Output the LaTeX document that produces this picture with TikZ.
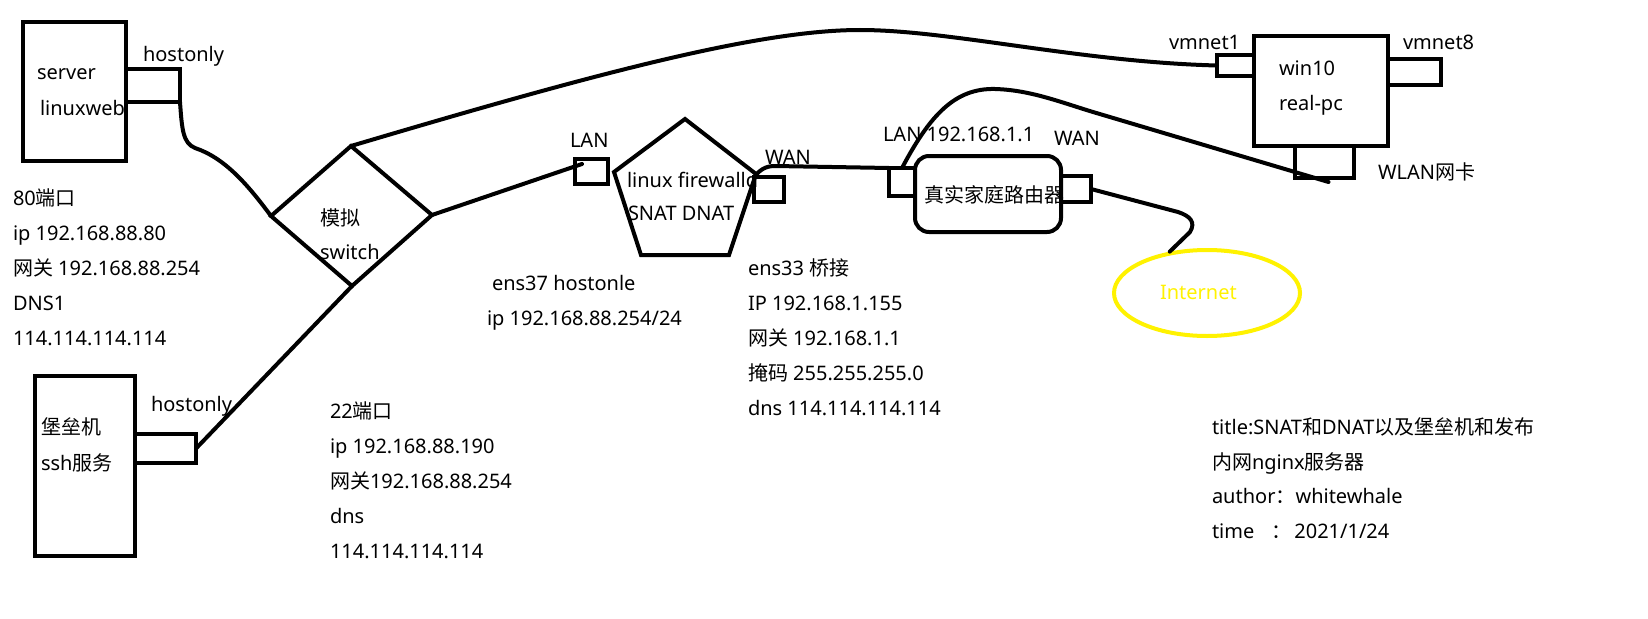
\documentclass[tikz,border=0pt]{standalone}
\usepackage{fontspec}
\setmainfont{Noto Sans}
\newfontfamily\zh{Noto Sans CJK SC}
\usetikzlibrary{shapes.geometric}
\definecolor{inetyellow}{RGB}{255,242,0}
\newcommand\fsz{\fontsize{20}{24}\selectfont}
\tikzset{
  wire/.style={line width=4pt, line cap=round, line join=round},
  shapeline/.style={line width=4pt, line join=miter},
  box/.style={draw, line width=4pt, inner sep=0pt, outer sep=0pt, rectangle},
  txt/.style={anchor=base west, inner sep=0pt, outer sep=0pt, font=\fsz},
}
\begin{document}
\begin{tikzpicture}[x=1pt, y=-1pt]
\fill[white] (0,0) rectangle (1648,618);
\path[use as bounding box] (0,0) rectangle (1648,618);

% ---------- boxes ----------
\node[box, minimum width=103pt, minimum height=139pt] (server) at (74.5,91.5) {};
\node[box, minimum width=54pt, minimum height=33pt] (sport) at (153,85.5) {};
\node[box, minimum width=100pt, minimum height=180pt] (bastion) at (85,466) {};
\node[box, minimum width=61pt, minimum height=29pt] (bport) at (165.5,448.5) {};
\node[box, minimum width=33pt, minimum height=25pt] (lanport) at (591.5,171.5) {};
\node[box, minimum width=30pt, minimum height=25pt] (wan) at (769,189.5) {};
\node[box, minimum width=26pt, minimum height=28pt] (rlan) at (902,182) {};
\node[box, rounded corners=14pt, minimum width=146pt, minimum height=76pt] (router) at (988,194) {};
\node[box, minimum width=30pt, minimum height=26pt] (rwan) at (1076,189) {};
\node[box, minimum width=134pt, minimum height=110pt] (win) at (1321,91) {};
\node[box, minimum width=37pt, minimum height=21pt] (vmA) at (1235.5,65.5) {};
\node[box, minimum width=53pt, minimum height=26pt] (vmB) at (1414.5,72) {};
\node[box, minimum width=59pt, minimum height=32pt] (wlan) at (1324.5,162) {};
\node[draw=inetyellow, line width=4pt, ellipse, inner sep=0pt, minimum width=186pt, minimum height=86pt] (inet) at (1207,293) {};

% ---------- switch diamond ----------
\coordinate (swT) at (351,146);
\coordinate (swL) at (271,216);
\coordinate (swR) at (432,215);
\coordinate (swB) at (352,286);
\draw[shapeline] (swT) -- (swR) -- (swB) -- (swL) -- cycle;

% ---------- firewall pentagon ----------
\coordinate (fwT) at (685,119);
\coordinate (fwR) at (756,174);
\coordinate (fwBR) at (729,255);
\coordinate (fwBL) at (641,255);
\coordinate (fwL) at (614,172);
\draw[shapeline] (fwT) -- (fwR) -- (fwBR) -- (fwBL) -- (fwL) -- cycle;

% ---------- connectors ----------
\draw[wire] (sport.south east) .. controls (182,130) and (183,143) .. (195,148)
  .. controls (225,158) and (248,185) .. (swL);
\draw[wire] (bport.east) -- (swB);
\draw[wire] (swR) -- ([shift={(7,5)}]lanport.north west);
\draw[wire] (swT) .. controls (600,72) and (760,30) .. (860,30)
  .. controls (950,30) and (1080,62) .. (vmA.west);
\draw[wire] (wan.north west) .. controls (760,170) and (765,166) .. (775,166) -- (rlan.north west);
\draw[wire] (rlan.north) .. controls (930,115) and (955,88) .. (995,89)
  .. controls (1030,90) and (1060,102) .. (1093,112) -- ([shift={(4,4)}]wlan.south);
\draw[wire] (rwan.east) -- (1178,212) .. controls (1190,216) and (1196,222) .. (1190,232) -- (inet.132);

% ---------- texts ----------
\node[txt] (tHostA) at (143,62) {hostonly};
\node[txt] (tServer) at (37,79) {server};
\node[txt] (tLinuxweb) at (40,115) {linuxweb};
\node[txt] (tA1) at (13,205) {80{\zh 端口}};
\node[txt] (tA2) at (13,240) {ip 192.168.88.80};
\node[txt] (tA3) at (13,275) {{\zh 网关} 192.168.88.254};
\node[txt] (tA4) at (13,310) {DNS1};
\node[txt] (tA5) at (13,345) {114.114.114.114};

\node[txt] (tSw1) at (320,225) {{\zh 模拟}};
\node[txt] (tSw2) at (320,259) {switch};

\node[txt] (tBast1) at (41,434) {{\zh 堡垒机}};
\node[txt] (tBast2) at (41,470) {ssh{\zh 服务}};
\node[txt] (tHostB) at (151,411) {hostonly};
\node[txt] (tB1) at (330,418) {22{\zh 端口}};
\node[txt] (tB2) at (330,453) {ip 192.168.88.190};
\node[txt] (tB3) at (330,488) {{\zh 网关}192.168.88.254};
\node[txt] (tB4) at (330,523) {dns};
\node[txt] (tB5) at (330,558) {114.114.114.114};

\node[txt] (tLan) at (570,147) {LAN};
\node[txt] (tFw1) at (627,187) {linux firewalld};
\node[txt] (tFw2) at (628,220) {SNAT DNAT};
\node[txt] (tWan) at (765,164) {WAN};
\node[txt] (tE37a) at (492,290) {ens37 hostonle};
\node[txt] (tE37b) at (487,325) {ip 192.168.88.254/24};
\node[txt] (tE33a) at (748,275) {ens33 {\zh 桥接}};
\node[txt] (tE33b) at (748,310) {IP 192.168.1.155};
\node[txt] (tE33c) at (748,345) {{\zh 网关} 192.168.1.1};
\node[txt] (tE33d) at (748,380) {{\zh 掩码} 255.255.255.0};
\node[txt] (tE33e) at (748,415) {dns 114.114.114.114};

\node[txt] (tRLan) at (883,141) {LAN 192.168.1.1};
\node[txt] (tRWan) at (1054,145) {WAN};
\node[txt] (tRouter) at (924,202) {{\zh 真实家庭路由器}};

\node[txt] (tVm1) at (1169,50) {vmnet1};
\node[txt] (tVm8) at (1403,50) {vmnet8};
\node[txt] (tWin) at (1279,75) {win10};
\node[txt] (tReal) at (1279,110) {real-pc};
\node[txt] (tWlan) at (1378,179) {WLAN{\zh 网卡}};
\node[txt, text=inetyellow] (tInet) at (1160,299) {Internet};

\node[txt] (tT1) at (1212,434) {title:SNAT{\zh 和}DNAT{\zh 以及堡垒机和发布}};
\node[txt] (tT2) at (1212,469) {{\zh 内网}nginx{\zh 服务器}};
\node[txt] (tT3) at (1212,503) {author{\zh ：}whitewhale};
\node[txt] (tT4) at (1212,538) {time\hspace{17pt}{\zh ：}\hspace{3pt}2021/1/24};
\end{tikzpicture}
\end{document}
